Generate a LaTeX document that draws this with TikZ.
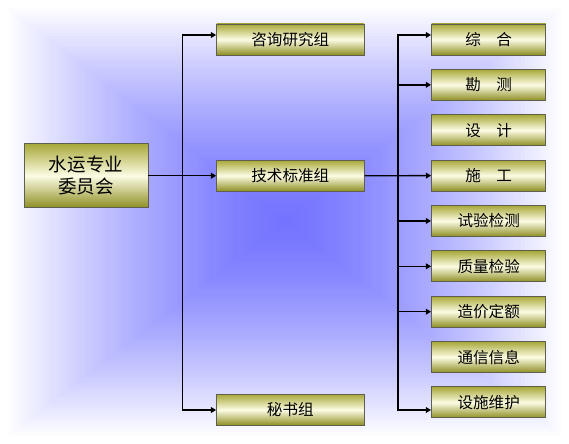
\documentclass[tikz,border=0pt]{standalone}
\usepackage{fontspec}
\newfontfamily\cjk{Noto Sans CJK SC}
\usepackage{tikz}
\usetikzlibrary{
  arrows.meta,
  positioning,
  calc
}
\definecolor{bgblue}{RGB}{115,115,255}
\definecolor{olivetop}{RGB}{168,168,58}
\definecolor{olivemid}{RGB}{252,252,228}
\definecolor{olivebot}{RGB}{142,142,36}
\definecolor{boxline}{RGB}{95,95,80}

\begin{document}
\begin{tikzpicture}[
  unit/.style={draw=boxline, line width=0.8pt, top color=olivetop,
               bottom color=olivebot, middle color=olivemid, inner sep=0pt,
               font=\cjk\fontsize{13.3}{16}\selectfont, text=black},
  group/.style={unit, minimum width=4.425cm, minimum height=0.93cm},
  dept/.style={unit, minimum width=3.43cm, minimum height=0.93cm},
  arr/.style={-{Triangle[length=4.5pt, width=5pt]}, line width=1.1pt},
  bus/.style={{Triangle[length=4.5pt, width=5pt]}-{Triangle[length=4.5pt, width=5pt]},
              line width=1.1pt}
]
\useasboundingbox (0,0) rectangle (17.07,13.32);
\fill[white] (0,0) rectangle (17.07,13.32);

% background: rectangular glow from the centre
\foreach \k in {0,...,70}{
  \pgfmathsetmacro\t{1-\k/70}
  \pgfmathsetmacro\m{100*(1-\t^1.4)}
  \fill[bgblue!\m!white] ({8.55-8.4*\t},{6.66-6.5*\t}) rectangle ({8.55+8.4*\t},{6.66+6.5*\t});
}

% committee
\node[unit, minimum width=3.72cm, minimum height=1.92cm, align=center,
      font=\cjk\fontsize{15.8}{18.5}\selectfont] (board) at (2.58, 8.0475) {水运专业\\委员会};

% groups
\node[group] (consult) at (8.71, 12.135) {咨询研究组};
\node[group] (tech) at (8.71, 8.0475) {技术标准组};
\node[group] (office) at (8.71, 1.026) {秘书组};

% technical departments
\foreach \name [count=\i from 0] in {综\hspace{1em}合, 勘\hspace{1em}测, 设\hspace{1em}计,
    施\hspace{1em}工, 试验检测, 质量检验, 造价定额, 通信信息, 设施维护}{
  \node[dept] (d\i) at (14.66, 12.135-\i*1.361) {\name};
}

% connectors
\coordinate (ltop) at (5.47, 12.27);
\coordinate (lbot) at (5.47, 1.02);
\coordinate (rtop) at (11.94, 12.27);
\coordinate (rbot) at (11.94, 1.02);

\draw[bus] (consult.west |- ltop) -- (ltop) -- (lbot) -- (office.west |- lbot);
\draw[arr] (board.east) -- (tech.west);

\draw[bus] (d0.west |- rtop) -- (rtop) -- (rbot) -- (d8.west |- rbot);
\draw[arr] (tech.east) -- (d3.west);
\foreach \i in {1,4,5,6}{
  \draw[arr] (rtop |- d\i.west) -- (d\i.west);
}
\end{tikzpicture}
\end{document}
